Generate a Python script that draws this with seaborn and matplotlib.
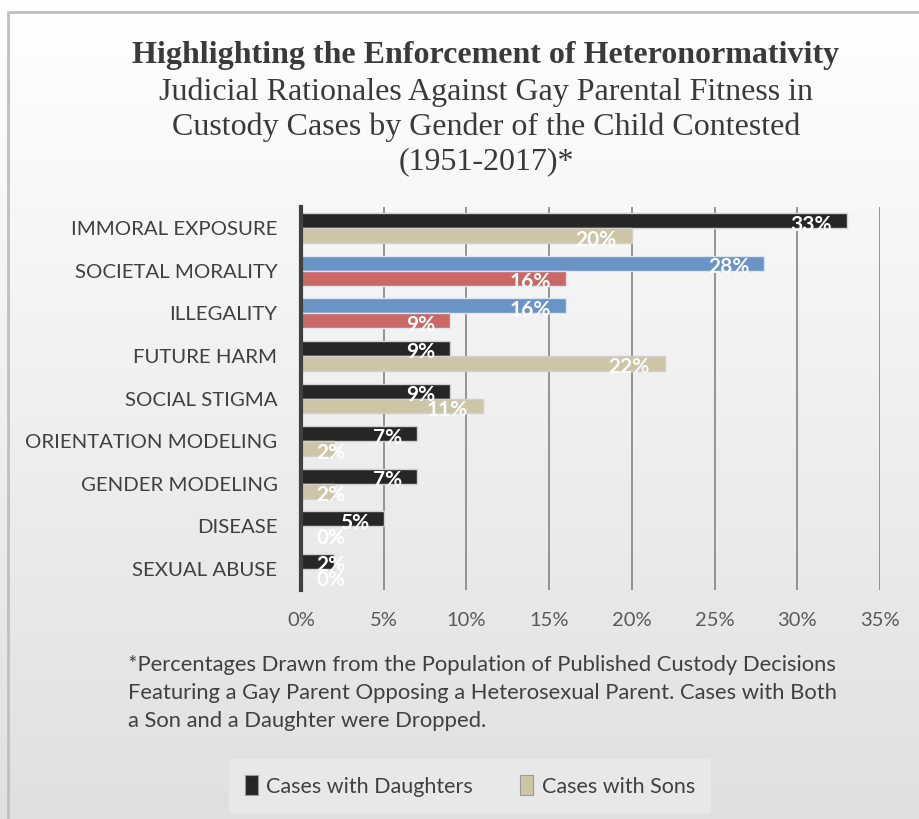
import numpy as np
import pandas as pd
import matplotlib
matplotlib.use("Agg")
import matplotlib.pyplot as plt
from matplotlib.patches import Patch, Rectangle
import seaborn as sns

# ---- data -------------------------------------------------------------
rationales = [
    "IMMORAL EXPOSURE", "SOCIETAL MORALITY", "ILLEGALITY", "FUTURE HARM",
    "SOCIAL STIGMA", "ORIENTATION MODELING", "GENDER MODELING", "DISEASE",
    "SEXUAL ABUSE",
]
daughters = [33, 28, 16, 9, 9, 7, 7, 5, 2]
sons = [20, 16, 9, 22, 11, 2, 2, 0, 0]
groups = ["Cases with Daughters", "Cases with Sons"]
x_ticks = [0, 5, 10, 15, 20, 25, 30, 35]
highlighted = ["SOCIETAL MORALITY", "ILLEGALITY"]

title = "Highlighting the Enforcement of Heteronormativity"
subtitle = ["Judicial Rationales Against Gay Parental Fitness in",
            "Custody Cases by Gender of the Child Contested",
            "(1951-2017)*"]
footnote = ["*Percentages Drawn from the Population of Published Custody Decisions",
            "Featuring a Gay Parent Opposing a Heterosexual Parent. Cases with Both",
            "a Son and a Daughter were Dropped."]

df = pd.DataFrame({
    "Rationale": rationales * 2,
    "Group": [groups[0]] * len(rationales) + [groups[1]] * len(rationales),
    "Share": daughters + sons,
})

# ---- style ------------------------------------------------------------
palette = {groups[0]: "#262626", groups[1]: "#CCC5A6"}
accent = {groups[0]: "#6A93C6", groups[1]: "#C96864"}
sans = ["Lato", "DejaVu Sans"]
serif = ["Liberation Serif", "DejaVu Serif"]

sns.set_theme(style="white")
plt.rcParams["font.family"] = sans

W, H = 919, 819
fig = plt.figure(figsize=(W / 100, H / 100), dpi=100)

# soft vertical gradient behind everything
bg = fig.add_axes([0, 0, 1, 1], zorder=-10)
grad = np.linspace(1.0, 0.0, 256).reshape(-1, 1)
top_c = np.array([1.0, 1.0, 1.0])
bot_c = np.array([0xE0, 0xE0, 0xE0]) / 255
img = bot_c + (top_c - bot_c) * grad[..., None]
bg.imshow(img, aspect="auto", extent=[0, 1, 0, 1])
bg.add_patch(Rectangle((8 / W, -0.1), 1.2, 1 - 12 / H + 0.1, fill=False,
                       edgecolor="#BFBFBF", linewidth=2))
bg.set_xlim(0, 1)
bg.set_ylim(0, 1)
bg.axis("off")

ax = fig.add_axes([301 / W, 1 - 590 / H, (880 - 301) / W, (590 - 207) / H])
ax.set_facecolor("none")

sns.barplot(data=df, y="Rationale", x="Share", hue="Group", orient="h",
            palette=palette, width=0.7, legend=False, ax=ax,
            edgecolor="#D0D0D0", linewidth=1.0, saturation=1)

# recolor the highlighted rationale rows
for group, container in zip(groups, ax.containers):
    for name, bar in zip(rationales, container):
        if name in highlighted:
            bar.set_facecolor(accent[group])
            bar.set_edgecolor("#DCE4EE")

# value labels, inside the bar end
for container in ax.containers:
    for bar in container:
        v = bar.get_width()
        yc = bar.get_y() + bar.get_height() / 2
        ax.annotate(f"{v:.0f}%", xy=(max(v, 3.6), yc), xytext=(-15, -4),
                    textcoords="offset pixels", ha="right", va="center",
                    color="white", fontsize=15, fontweight="bold",
                    family=sans, zorder=5)

ax.set_xlim(x_ticks[0], x_ticks[-1])
ax.set_xticks(x_ticks)
ax.set_xticklabels([f"{t}%" for t in x_ticks])
ax.set_xlabel("")
ax.set_ylabel("")
ax.grid(axis="x", color="#8C8C8C", linewidth=1.3)
ax.set_axisbelow(True)
for s in ["top", "right", "bottom"]:
    ax.spines[s].set_visible(False)
ax.spines["left"].set_color("#404040")
ax.spines["left"].set_linewidth(3)
ax.spines["left"].set_zorder(4)
ax.tick_params(axis="x", length=0, pad=16, labelsize=14.5, labelcolor="#595959")
ax.tick_params(axis="y", length=0, pad=17, labelsize=14.7, labelcolor="#404040")

# titles
fig.text(486 / W, 1 - 56 / H, title, ha="center", va="center",
         fontsize=23, fontweight="bold", family=serif, color="#3A3A3A")
for i, line in enumerate(subtitle):
    fig.text(486 / W, 1 - (92 + 35 * i) / H, line, ha="center", va="center",
             fontsize=23, family=serif, color="#3A3A3A")

for i, line in enumerate(footnote):
    fig.text(128 / W, 1 - (665 + 28 * i) / H, line, ha="left", va="center",
             fontsize=15.8, family=sans, color="#404040")

handles = [Patch(facecolor=palette[g], edgecolor="#9A9A9A", linewidth=0.8)
           for g in groups]
leg = fig.legend(handles, groups, loc="center", ncol=2,
                 bbox_to_anchor=(470 / W, 1 - 786 / H), frameon=True,
                 fontsize=15.5, handlelength=0.6, handleheight=1.0,
                 handletextpad=0.4, columnspacing=2.2, borderpad=0.45,
                 labelcolor="#404040")
leg.get_frame().set_facecolor("#EBEBEB")
leg.get_frame().set_edgecolor("none")
leg.get_frame().set_boxstyle("square", pad=0.3)

fig.savefig("out.png", dpi=100)
